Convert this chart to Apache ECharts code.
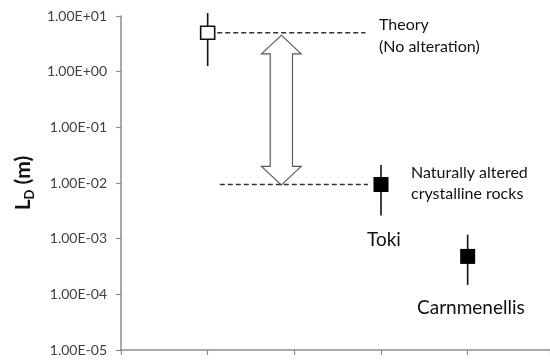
<!DOCTYPE html>
<html><head><meta charset="utf-8">
<script src="https://cdn.jsdelivr.net/npm/echarts@6/dist/echarts.min.js"></script>
<style>html,body{margin:0;padding:0;background:#fff}#c{width:550px;height:360px}</style>
</head><body><div id="c"></div>
<script>
// ---- data ----
const categories = ['Theory', 'Toki', 'Carnmenellis'];
const xPositions = [1, 3, 4];
const centerValues = [5.0, 0.0094, 0.00048];
const lowValues = [1.26, 0.0026, 0.000148];
const highValues = [11.3, 0.021, 0.00118];
const yTickValues = [1e-5, 1e-4, 1e-3, 1e-2, 1e-1, 1, 10];
const annotations = ['Theory', '(No alteration)', 'Naturally altered', 'crystalline rocks'];

const FONT = 'Lato, "Open Sans", sans-serif';

function fmtTick(v) {
  const e = Math.round(Math.log10(v));
  return '1.00E' + (e < 0 ? '-' : '+') + String(Math.abs(e)).padStart(2, '0');
}

const theoryData = [[xPositions[0], centerValues[0], lowValues[0], highValues[0]]];
const measuredData = [1, 2].map(i => [xPositions[i], centerValues[i], lowValues[i], highValues[i]]);

function errRender(filled, w, h) {
  return function (params, api) {
    const x = api.value(0);
    const c = api.coord([x, api.value(1)]);
    const lo = api.coord([x, api.value(2)]);
    const hi = api.coord([x, api.value(3)]);
    return {
      type: 'group',
      children: [
        { type: 'line', shape: { x1: c[0], y1: hi[1], x2: c[0], y2: lo[1] },
          style: { stroke: '#111', lineWidth: 1.6 } },
        { type: 'rect', shape: { x: c[0] - w / 2, y: c[1] - h / 2, width: w, height: h },
          style: { fill: filled ? '#000' : '#fff', stroke: '#111', lineWidth: filled ? 0 : 1.6 } }
      ]
    };
  };
}

// dashed reference lines (x extents are layout)
const dashTop = [[1.11, centerValues[0]], [2.82, centerValues[0]]];
const dashBottom = [[1.14, centerValues[1]], [2.85, centerValues[1]]];

// double-headed arrow between theory and Toki levels
const arrowData = [[1.85, centerValues[0], centerValues[1]]];
function arrowRender(params, api) {
  const x = api.value(0);
  const t = api.coord([x, api.value(1)]);
  const b = api.coord([x, api.value(2)]);
  const cx = t[0], y0 = t[1] + 4, y1 = b[1] - 1;
  const hw = 17, sw = 10, hl = 16;
  const pts = [
    [cx, y0], [cx + hw, y0 + hl], [cx + sw, y0 + hl], [cx + sw, y1 - hl], [cx + hw, y1 - hl],
    [cx, y1], [cx - hw, y1 - hl], [cx - sw, y1 - hl], [cx - sw, y0 + hl], [cx - hw, y0 + hl]
  ];
  return {
    type: 'group',
    children: [
      { type: 'polygon', shape: { points: pts }, style: { fill: '#fff', stroke: '#555', lineWidth: 3.4 } },
      { type: 'polygon', shape: { points: pts }, style: { fill: '#fff', stroke: '#fff', lineWidth: 1.1 } }
    ]
  };
}

const chart = echarts.init(document.getElementById('c'), null, { renderer: 'canvas' });
chart.setOption({
  animation: false,
  backgroundColor: '#fff',
  grid: { left: 121, right: 0, top: 16, bottom: 10, containLabel: false },
  xAxis: {
    type: 'value', min: 0, max: 4.95, interval: 1,
    axisLine: { lineStyle: { color: '#8c8c8c', width: 1.5 } },
    axisTick: { show: true, length: 5, lineStyle: { color: '#8c8c8c', width: 1.2 } },
    axisLabel: { show: false },
    splitLine: { show: false }
  },
  yAxis: {
    type: 'log', logBase: 10, min: yTickValues[0], max: yTickValues[yTickValues.length - 1],
    axisLine: { show: true, lineStyle: { color: '#8c8c8c', width: 1.5 } },
    axisTick: { show: true, length: 5, lineStyle: { color: '#8c8c8c', width: 1.2 } },
    minorTick: { show: false },
    splitLine: { show: false },
    axisLabel: { formatter: fmtTick, color: '#404040', fontSize: 14, fontFamily: FONT, margin: 14 },
    name: '{a|L}{b|D}{a| (m)}',
    nameLocation: 'middle',
    nameGap: 84,
    nameRotate: 90,
    nameTextStyle: {
      rich: {
        a: { fontSize: 21, fontWeight: 'bold', fontFamily: FONT, color: '#111', lineHeight: 26 },
        b: { fontSize: 13, fontWeight: 'bold', fontFamily: FONT, color: '#111', verticalAlign: 'bottom', lineHeight: 15 }
      }
    }
  },
  series: [
    { type: 'line', data: dashTop, symbol: 'none', silent: true,
      lineStyle: { color: '#333', width: 1.4, type: [5, 3] } },
    { type: 'line', data: dashBottom, symbol: 'none', silent: true,
      lineStyle: { color: '#333', width: 1.4, type: [5, 3] } },
    { type: 'custom', name: 'arrow', renderItem: arrowRender, data: arrowData, silent: true, z: 3 },
    { type: 'custom', name: categories[0], renderItem: errRender(false, 14, 13), data: theoryData, z: 5 },
    { type: 'custom', name: 'measured', renderItem: errRender(true, 15, 15), data: measuredData, z: 5 }
  ],
  graphic: [
    { type: 'text', left: 379, top: 17, style: { text: annotations[0], font: '16px ' + FONT, fill: '#111' } },
    { type: 'text', left: 379, top: 39, style: { text: annotations[1], font: '16px ' + FONT, fill: '#111' } },
    { type: 'text', left: 411, top: 165, style: { text: annotations[2], font: '16px ' + FONT, fill: '#111' } },
    { type: 'text', left: 411, top: 186, style: { text: annotations[3], font: '16px ' + FONT, fill: '#111' } },
    { type: 'text', left: 367, top: 230, style: { text: categories[1], font: '19px ' + FONT, fill: '#111' } },
    { type: 'text', left: 417, top: 298, style: { text: categories[2], font: '19px ' + FONT, fill: '#111' } }
  ]
});
</script></body></html>
